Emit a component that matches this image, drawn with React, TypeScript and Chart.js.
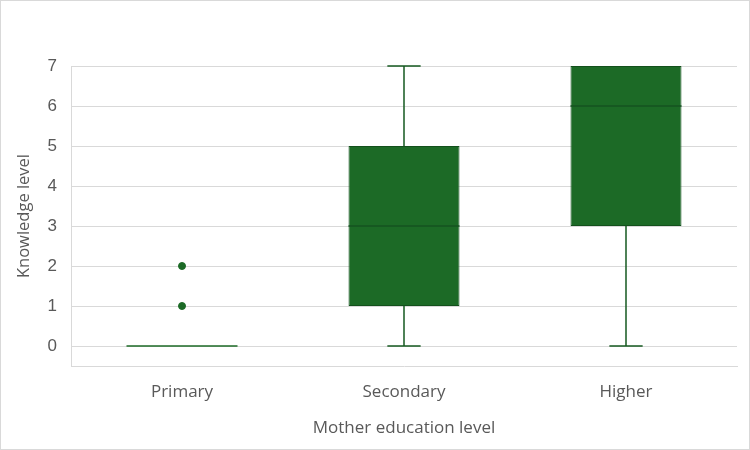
import React, { useEffect, useRef } from "react";
import { Chart, registerables } from "chart.js";

Chart.register(...registerables);

const categories = ["Primary", "Secondary", "Higher"];
const whiskerMin = [0, 0, 0];
const q1 = [0, 1, 3];
const median = [0, 3, 6];
const q3 = [0, 5, 7];
const whiskerMax = [0, 7, 7];
const outlierCategories = ["Primary", "Primary"];
const outlierValues = [1, 2];
const yTicks = [0, 1, 2, 3, 4, 5, 6, 7];

const GREEN = "#1c6a26";
const DARK = "#165a20";
const TEXT = "#595959";
const GRID = "#d9d9d9";

const boxPlugin = {
  id: "boxExtras",
  beforeDraw(chart: any) {
    const { ctx } = chart;
    ctx.save();
    ctx.strokeStyle = GRID;
    ctx.lineWidth = 1;
    ctx.strokeRect(0.5, 0.5, chart.width - 1, chart.height - 1);
    ctx.restore();
  },
  afterDatasetsDraw(chart: any) {
    const { ctx } = chart;
    const xs = chart.scales.x;
    const ys = chart.scales.y;
    const meta = chart.getDatasetMeta(0);
    ctx.save();
    ctx.strokeStyle = DARK;
    ctx.lineWidth = 1.5;
    categories.forEach((c, i) => {
      const cx = xs.getPixelForValue(i);
      const bar = meta.data[i];
      const half = bar ? bar.width / 2 : 55;
      const cap = half * 0.3;
      const yMin = ys.getPixelForValue(whiskerMin[i]);
      const yMax = ys.getPixelForValue(whiskerMax[i]);
      const yQ1 = ys.getPixelForValue(q1[i]);
      const yQ3 = ys.getPixelForValue(q3[i]);
      const yMed = ys.getPixelForValue(median[i]);
      ctx.beginPath();
      if (whiskerMax[i] > q3[i]) {
        ctx.moveTo(cx, yQ3);
        ctx.lineTo(cx, yMax);
        ctx.moveTo(cx - cap, yMax);
        ctx.lineTo(cx + cap, yMax);
      }
      if (whiskerMin[i] < q1[i]) {
        ctx.moveTo(cx, yQ1);
        ctx.lineTo(cx, yMin);
        ctx.moveTo(cx - cap, yMin);
        ctx.lineTo(cx + cap, yMin);
      }
      ctx.stroke();
      ctx.beginPath();
      ctx.strokeStyle = q3[i] === q1[i] ? GREEN : "#145320";
      ctx.moveTo(cx - half, yMed);
      ctx.lineTo(cx + half, yMed);
      ctx.stroke();
      ctx.strokeStyle = DARK;
    });
    ctx.restore();
  },
};

export default function App() {
  const ref = useRef<HTMLCanvasElement>(null);
  useEffect(() => {
    if (!ref.current) return;
    const chart = new Chart(ref.current, {
      type: "bar",
      data: {
        labels: categories,
        datasets: [
          {
            type: "bar",
            data: categories.map((_, i) => [q1[i], q3[i]]) as any,
            backgroundColor: GREEN,
            borderColor: "#13501c",
            borderWidth: 1,
            borderSkipped: false,
            barPercentage: 0.5,
            categoryPercentage: 1,
          },
          {
            type: "line",
            data: outlierCategories.map((c, i) => ({ x: c, y: outlierValues[i] })) as any,
            showLine: false,
            pointRadius: 3.5,
            pointBackgroundColor: GREEN,
            pointBorderColor: GREEN,
          },
        ],
      },
      options: {
        responsive: false,
        animation: false,
        layout: { padding: { top: 66, right: 13, left: 0, bottom: 0 } },
        plugins: { legend: { display: false }, tooltip: { enabled: false } },
        scales: {
          x: {
            offset: true,
            grid: { display: false, drawTicks: false },
            border: { display: true, color: GRID, width: 1 },
            ticks: {
              color: TEXT,
              padding: 16,
              font: { family: "'Open Sans'", size: 17 },
            },
            title: {
              display: true,
              text: "Mother education level",
              color: TEXT,
              font: { family: "'Open Sans'", size: 17 },
              padding: { top: 0, bottom: 12 },
            },
            afterFit(scale: any) {
              scale.height = 84;
            },
          },
          y: {
            min: -0.5,
            max: 7,
            afterBuildTicks(scale: any) {
              scale.ticks = yTicks.map((v) => ({ value: v }));
            },
            grid: { color: GRID, drawTicks: false },
            border: { display: true, color: GRID, width: 1 },
            ticks: {
              color: TEXT,
              padding: 14,
              font: { family: "'Liberation Sans'", size: 17 },
            },
            title: {
              display: true,
              text: "Knowledge level",
              color: TEXT,
              font: { family: "'Open Sans'", size: 16.5 },
              padding: { top: 14, bottom: 0 },
            },
            afterFit(scale: any) {
              scale.width = 71;
            },
          },
        },
      },
      plugins: [boxPlugin],
    });
    return () => chart.destroy();
  }, []);
  return (
    <div style={{ position: "fixed", left: 0, top: 0, width: 750, height: 450, background: "#fff" }}>
      <canvas ref={ref} width={750} height={450} />
    </div>
  );
}
